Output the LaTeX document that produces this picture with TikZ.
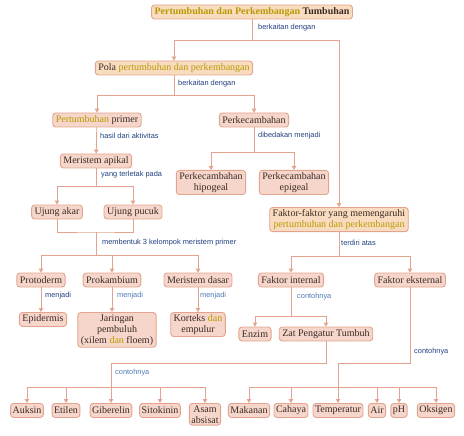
\documentclass[tikz,border=0pt]{standalone}
\usepackage{fontspec}
\setmainfont{Liberation Serif}
\setsansfont{Liberation Sans}
\usetikzlibrary{arrows.meta}
\definecolor{boxfill}{HTML}{F6D6CA}
\definecolor{boxfillY}{HTML}{F9DCC0}
\definecolor{boxline}{HTML}{E2A48E}
\definecolor{txt}{HTML}{3A2A25}
\definecolor{ol}{HTML}{B89A00}
\definecolor{labA}{HTML}{1F3F7F}
\definecolor{labB}{HTML}{4D7AB3}
\newcommand{\hl}[1]{\textcolor{ol}{#1}}
\begin{document}
\begin{tikzpicture}[x=1pt,y=-1pt,
  box/.style={draw=boxline, fill=boxfill, rounded corners=3pt, line width=0.9pt,
    inner xsep=3pt, inner ysep=2pt, text=txt, align=center,
    font=\fontsize{10}{11}\selectfont, minimum height=14pt},
  boxY/.style={box, fill=boxfillY},
  lab/.style={anchor=west, text=labA, font=\sffamily\fontsize{7.4}{8}\selectfont, inner sep=0pt},
  labL/.style={lab, text=labB},
  ln/.style={draw=boxline, line width=0.9pt},
  arr/.style={ln, -{Triangle[width=4.5pt,length=4pt]}}]
\useasboundingbox (0,0) rectangle (464,436);

% nodes
\node[boxY, font=\bfseries\fontsize{10}{11}\selectfont] (top) at (252,12) {\hl{Pertumbuhan dan Perkembangan} Tumbuhan};
\node[boxY] (pola) at (174,68) {Pola \hl{pertumbuhan dan perkembangan}};
\node[box] (pp) at (97,120) {\hl{Pertumbuhan} primer};
\node[box] (perk) at (254,120) {Perkecambahan};
\node[box] (mer) at (96,161) {Meristem apikal};
\node[box, anchor=north] (hipo) at (211,170) {Perkecambahan\\hipogeal};
\node[box, anchor=north] (epi) at (294,170) {Perkecambahan\\epigeal};
\node[box] (ua) at (57,212) {Ujung akar};
\node[box] (up) at (133,212) {Ujung pucuk};
\node[boxY, anchor=north] (fak) at (339,207) {Faktor-faktor yang memengaruhi\\\hl{pertumbuhan dan perkembangan}};
\node[box] (proto) at (41,280) {Protoderm};
\node[box] (prok) at (112,280) {Prokambium};
\node[box] (merd) at (198,280) {Meristem dasar};
\node[box] (fi) at (291,280) {Faktor internal};
\node[box] (fe) at (410,280) {Faktor eksternal};
\node[box, anchor=north] (epid) at (43,312) {Epidermis};
\node[box, anchor=north] (jar) at (117,312) {Jaringan\\pembuluh\\(xilem \hl{dan} floem)};
\node[box, anchor=north] (kor) at (198,312) {Korteks \hl{dan}\\empulur};
\node[box] (enz) at (255,334) {Enzim};
\node[box] (zat) at (326,334) {Zat Pengatur Tumbuh};

\foreach \n/\x/\t in {auk/27/Auksin, eti/66/Etilen, gib/111/Giberelin, sit/160/Sitokinin,
  mak/249/Makanan, cah/291/Cahaya, tem/338/Temperatur, air/377/Air, ph/399/pH, oks/436/Oksigen}
  \node[box, anchor=north, inner xsep=2pt] (\n) at (\x,403) {\t};
\node[box, anchor=north, inner xsep=2pt] (asa) at (205,403) {Asam\\absisat};

% junctions
\coordinate (c1) at (252,40);
\coordinate (c2) at (174,95);
\coordinate (c3) at (96,186);
\coordinate (c4) at (254,152);
\coordinate (c5) at (96,232);
\coordinate (c6) at (96,255);
\coordinate (c7) at (339,256);
\coordinate (c8) at (291,316);
\coordinate (c9) at (111,363);
\coordinate (c10) at (111,387);
\coordinate (c11) at (338,363);
\coordinate (c12) at (338,387);

% connectors
\draw[ln] (top) -- (c1);
\draw[arr] (c1) -| (pola);
\draw[arr] (c1) -| (fak);
\draw[ln] (pola) -- (c2);
\draw[arr] (c2) -| (pp);
\draw[arr] (c2) -| (perk);
\draw[arr] (pp) -- (mer);
\draw[ln] (mer) -- (c3);
\draw[arr] (c3) -| (ua);
\draw[arr] (c3) -| (up);
\draw[ln] (perk) -- (c4);
\draw[arr] (c4) -| (hipo);
\draw[arr] (c4) -| (epi);
\draw[ln] (ua) |- (c5) -| (up);
\draw[ln] (c5) -- (c6);
\draw[arr] (c6) -| (proto);
\draw[arr] (c6) -| (prok);
\draw[arr] (c6) -| (merd);
\draw[arr] (proto) -- (proto |- epid.north);
\draw[arr] (prok) -- (prok |- jar.north);
\draw[arr] (merd) -- (kor);
\draw[ln] (fak) -- (c7);
\draw[arr] (c7) -| (fi);
\draw[arr] (c7) -| (fe);
\draw[ln] (fi) -- (c8);
\draw[arr] (c8) -| (enz);
\draw[arr] (c8) -| (zat);
\draw[ln] (zat) |- (c9) -- (c10);
\foreach \n in {auk,eti,gib,sit,asa} \draw[arr] (c10) -| (\n);
\draw[ln] (fe) |- (c11) -- (c12);
\foreach \n in {mak,cah,tem,air,ph,oks} \draw[arr] (c12) -| (\n);

% labels
\node[lab] (l1) at (258,28) {berkaitan dengan};
\node[lab] (l2) at (178,84) {berkaitan dengan};
\node[lab] (l3) at (100,136) {hasil dari aktivitas};
\node[lab] (l4) at (258,136) {dibedakan menjadi};
\node[lab] (l5) at (101,175) {yang terletak pada};
\node[lab] (l6) at (102,243) {membentuk 3 kelompok meristem primer};
\node[lab] (l7) at (341,243) {terdiri atas};
\node[lab] (l8) at (45,296) {menjadi};
\node[labL] (l9) at (117,296) {menjadi};
\node[labL] (l10) at (200,296) {menjadi};
\node[labL] (l11) at (297,297) {contohnya};
\node[labL] (l12) at (115,373) {contohnya};
\node[lab] (l13) at (414,352) {contohnya};
\end{tikzpicture}
\end{document}
